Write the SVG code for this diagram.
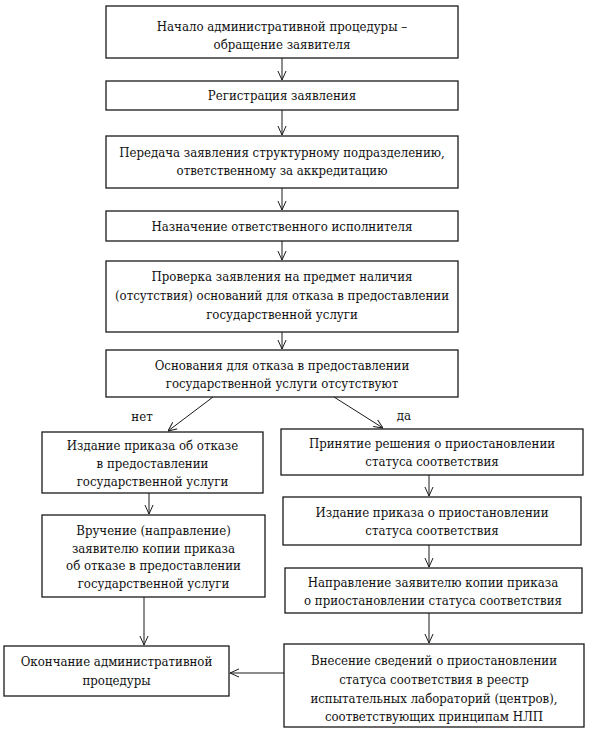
<svg xmlns="http://www.w3.org/2000/svg" width="593" height="732" viewBox="0 0 593 732">
<defs>
<style>
.box{fill:#fff;stroke:#1a1a1a;stroke-width:1.3}
.t{font-family:"DejaVu Serif Condensed","DejaVu Serif",serif;font-stretch:condensed;font-size:13.1px;fill:#111;text-anchor:middle}
.c{stroke:#1a1a1a;stroke-width:1;fill:none}
</style>
<marker id="ah" viewBox="0 0 10 10" refX="10" refY="5" markerWidth="9" markerHeight="10" markerUnits="userSpaceOnUse" orient="auto">
<path d="M0,0.5 L10,5 L0,9.5" fill="none" stroke="#1a1a1a" stroke-width="1.1"/>
</marker>
</defs>
<rect width="593" height="732" fill="#fff"/>
<g id="n1"><rect class="box" x="106" y="6" width="352" height="52"/>
<text class="t" x="282" y="31">Начало административной процедуры –</text>
<text class="t" x="282" y="49">обращение заявителя</text></g>

<g id="n2"><rect class="box" x="106" y="81" width="352" height="29"/>
<text class="t" x="282" y="100">Регистрация заявления</text></g>

<g id="n3"><rect class="box" x="106" y="136" width="352" height="52"/>
<text class="t" x="282" y="157">Передача заявления структурному подразделению,</text>
<text class="t" x="282" y="175">ответственному за аккредитацию</text></g>

<g id="n4"><rect class="box" x="106" y="211" width="352" height="30"/>
<text class="t" x="282" y="231">Назначение ответственного исполнителя</text></g>

<g id="n5"><rect class="box" x="106" y="261" width="352" height="71"/>
<text class="t" x="282" y="281">Проверка заявления на предмет наличия</text>
<text class="t" x="282" y="300">(отсутствия) оснований для отказа в предоставлении</text>
<text class="t" x="282" y="319">государственной услуги</text></g>

<g id="n6"><rect class="box" x="106" y="350" width="352" height="47"/>
<text class="t" x="282" y="370">Основания для отказа в предоставлении</text>
<text class="t" x="282" y="388">государственной услуги отсутствуют</text></g>

<g id="l1"><rect class="box" x="42" y="432" width="221" height="61"/>
<text class="t" x="152.5" y="450">Издание приказа об отказе</text>
<text class="t" x="152.5" y="468">в предоставлении</text>
<text class="t" x="152.5" y="486">государственной услуги</text></g>

<g id="l2"><rect class="box" x="42" y="515" width="223" height="82"/>
<text class="t" x="153.5" y="535">Вручение (направление)</text>
<text class="t" x="153.5" y="552.5">заявителю копии приказа</text>
<text class="t" x="153.5" y="570">об отказе в предоставлении</text>
<text class="t" x="153.5" y="587.5">государственной услуги</text></g>

<g id="end"><rect class="box" x="4" y="646" width="225" height="50"/>
<text class="t" x="116.5" y="666">Окончание административной</text>
<text class="t" x="116.5" y="685">процедуры</text></g>

<g id="r1"><rect class="box" x="281" y="429" width="302" height="46"/>
<text class="t" x="432" y="448">Принятие решения о приостановлении</text>
<text class="t" x="432" y="466">статуса соответствия</text></g>

<g id="r2"><rect class="box" x="283" y="497" width="298" height="48"/>
<text class="t" x="432" y="517">Издание приказа о приостановлении</text>
<text class="t" x="432" y="535">статуса соответствия</text></g>

<g id="r3"><rect class="box" x="285" y="568" width="297" height="45"/>
<text class="t" x="433" y="587">Направление заявителю копии приказа</text>
<text class="t" x="433" y="605">о приостановлении статуса соответствия</text></g>

<g id="r4"><rect class="box" x="284" y="644" width="300" height="83"/>
<text class="t" x="434" y="665">Внесение сведений о приостановлении</text>
<text class="t" x="434" y="684">статуса соответствия в реестр</text>
<text class="t" x="434" y="703">испытательных лабораторий (центров),</text>
<text class="t" x="434" y="721">соответствующих принципам НЛП</text></g>

<g id="connectors">
<line class="c" x1="282" y1="58" x2="282" y2="80" marker-end="url(#ah)"/>
<line class="c" x1="282" y1="110" x2="282" y2="135" marker-end="url(#ah)"/>
<line class="c" x1="282" y1="188" x2="282" y2="210" marker-end="url(#ah)"/>
<line class="c" x1="282" y1="241" x2="282" y2="260" marker-end="url(#ah)"/>
<line class="c" x1="282" y1="332" x2="282" y2="349" marker-end="url(#ah)"/>
<line class="c" x1="213" y1="397" x2="168" y2="431" marker-end="url(#ah)"/>
<text class="t" x="142" y="421">нет</text>
<line class="c" x1="334" y1="397" x2="383" y2="428" marker-end="url(#ah)"/>
<text class="t" x="404" y="420">да</text>
<line class="c" x1="149" y1="493" x2="149" y2="514" marker-end="url(#ah)"/>
<line class="c" x1="144" y1="597" x2="144" y2="645" marker-end="url(#ah)"/>
<line class="c" x1="429" y1="475" x2="429" y2="496" marker-end="url(#ah)"/>
<line class="c" x1="429" y1="545" x2="429" y2="567" marker-end="url(#ah)"/>
<line class="c" x1="429" y1="613" x2="429" y2="643" marker-end="url(#ah)"/>
<line class="c" x1="284" y1="673" x2="230" y2="673" marker-end="url(#ah)"/>
</g>
</svg>
